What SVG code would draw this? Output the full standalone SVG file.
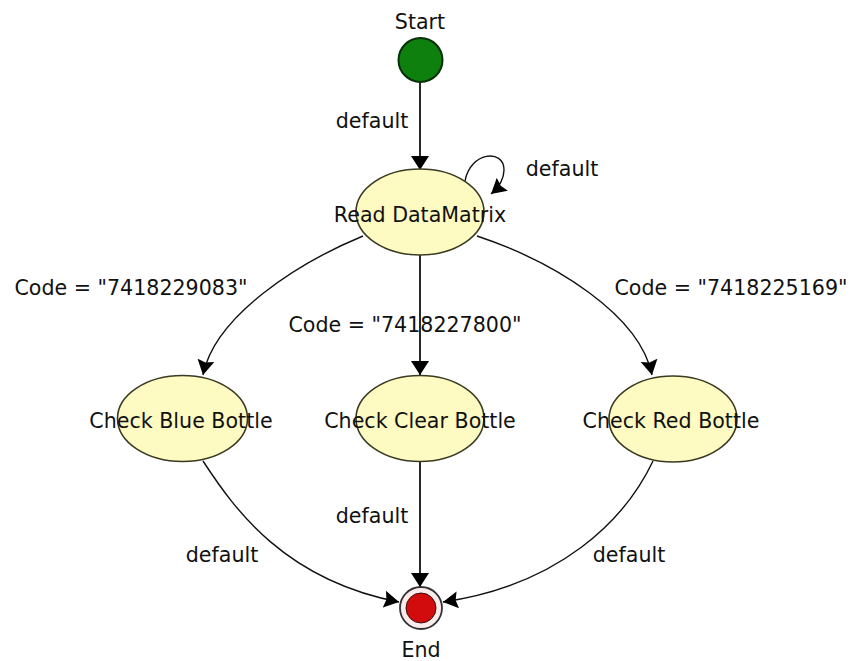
<svg xmlns="http://www.w3.org/2000/svg" width="856" height="661" viewBox="0 0 856 661">
<defs>
<style>
text{font-family:"DejaVu Sans","Liberation Sans",sans-serif;font-size:20.6px;fill:#111}
.st{fill:#fdfbc2;stroke:#3a3a22;stroke-width:1.6}
.e{fill:none;stroke:#111;stroke-width:1.4}
.v{fill:none;stroke:#111;stroke-width:1.8}
</style>
<marker id="a" markerUnits="userSpaceOnUse" markerWidth="16" markerHeight="20" refX="14" refY="9" orient="auto" viewBox="0 0 16 18">
<path d="M0,0 L14,9 L0,18 Z" fill="#000"/>
</marker>
<marker id="b" markerUnits="userSpaceOnUse" markerWidth="16" markerHeight="18" refX="14" refY="8" orient="auto" viewBox="0 0 15 16">
<path d="M0,0 L14,8 L0,16 L2,8 Z" fill="#000"/>
</marker>
</defs>
<rect width="856" height="661" fill="#fff"/>
<g id="connectors">
<path class="v" d="M420,82 L420,170" marker-end="url(#a)"/>
<text x="372" y="128" text-anchor="middle">default</text>
<path class="e" d="M465,181 C470,152 504,148 504,170 C504,181 498,188 491,194" marker-end="url(#b)"/>
<text x="562" y="176" text-anchor="middle">default</text>
<path class="e" d="M363,236 C300,262 215,315 203,375" marker-end="url(#b)"/>
<text x="131" y="295" text-anchor="middle">Code = "7418229083"</text>
<path class="v" d="M420,255 L420,375" marker-end="url(#a)"/>
<text x="405" y="332" text-anchor="middle">Code = "7418227800"</text>
<path class="e" d="M477,236 C555,262 640,315 652,375" marker-end="url(#b)"/>
<text x="731" y="295" text-anchor="middle">Code = "7418225169"</text>
<path class="e" d="M203,461 C235,510 285,580 399,602" marker-end="url(#b)"/>
<text x="222" y="562" text-anchor="middle">default</text>
<path class="v" d="M420,462 L420,587" marker-end="url(#a)"/>
<text x="372" y="523" text-anchor="middle">default</text>
<path class="e" d="M653,461 C625,520 560,585 443,602" marker-end="url(#b)"/>
<text x="629" y="562" text-anchor="middle">default</text>
</g>
<g id="start">
<circle cx="420.5" cy="60" r="22" fill="#0e800e" stroke="#0a2e0a" stroke-width="2"/>
<text x="420" y="29" text-anchor="middle">Start</text>
</g>
<g id="read">
<ellipse class="st" cx="420" cy="212" rx="64" ry="43"/>
<text x="420" y="222" text-anchor="middle">Read DataMatrix</text>
</g>
<g id="blue">
<ellipse class="st" cx="182.5" cy="418.5" rx="65" ry="43"/>
<text x="181" y="428" text-anchor="middle">Check Blue Bottle</text>
</g>
<g id="clear">
<ellipse class="st" cx="420" cy="418.5" rx="64" ry="43"/>
<text x="420" y="428" text-anchor="middle">Check Clear Bottle</text>
</g>
<g id="red">
<ellipse class="st" cx="673" cy="419" rx="64" ry="43"/>
<text x="671" y="428" text-anchor="middle">Check Red Bottle</text>
</g>
<g id="end">
<circle cx="421" cy="608" r="21" fill="#fbecec" stroke="#333" stroke-width="1.8"/>
<circle cx="421" cy="608" r="15" fill="#d20c0c" stroke="#3a1010" stroke-width="1"/>
<text x="421" y="657" text-anchor="middle">End</text>
</g>
</svg>
